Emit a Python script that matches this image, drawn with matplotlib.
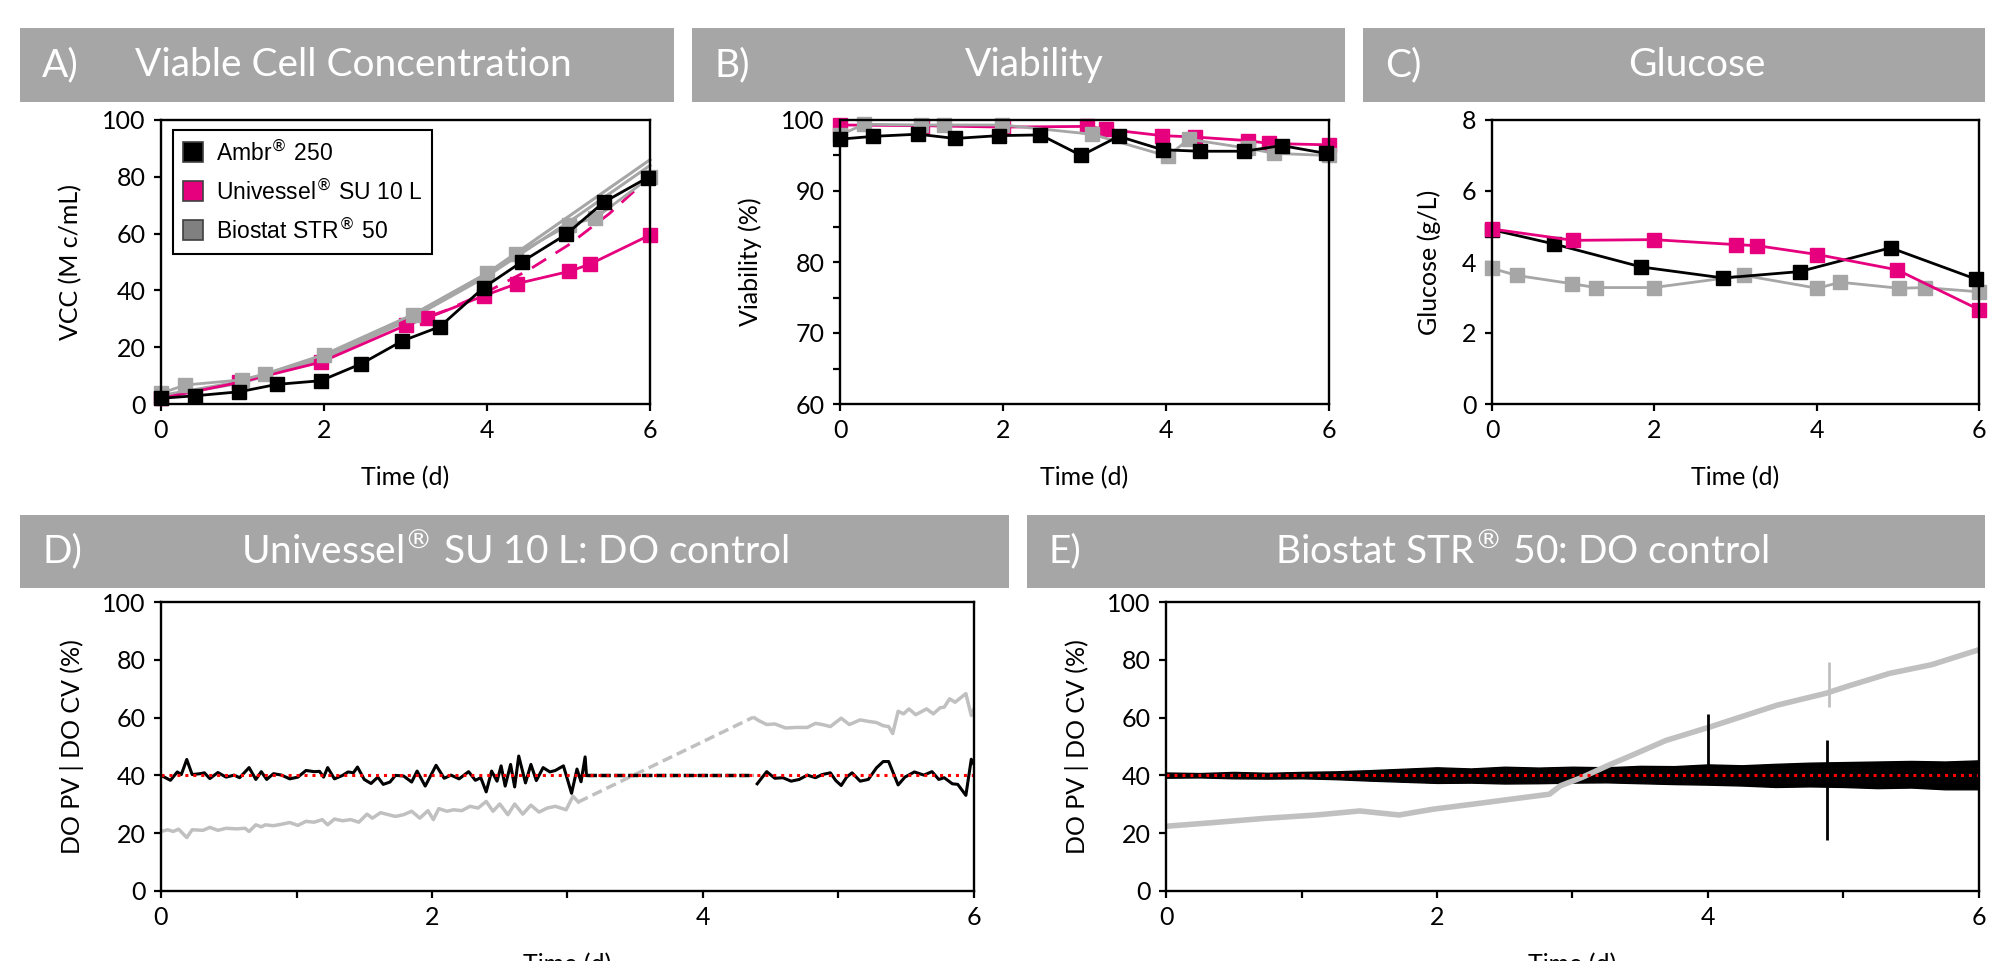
import matplotlib.pyplot as plt
from matplotlib.patches import Rectangle

# ---- values ----
# A) viable cell concentration (M c/mL)
vcc_ambr_t = [0, 0.42, 0.96, 1.42, 1.96, 2.46, 2.96, 3.42, 3.96, 4.43, 4.97, 5.43, 5.97]
vcc_ambr = [2.0, 2.9, 4.3, 6.9, 8.2, 14.2, 22.2, 27.2, 41.0, 50.1, 59.7, 71.0, 79.7]
vcc_uni_t = [0, 0.96, 1.96, 3.01, 3.26, 3.96, 4.37, 5.01, 5.26, 6.0]
vcc_uni = [2.0, 7.6, 14.7, 27.8, 30.2, 38.1, 42.4, 46.7, 49.2, 59.5]
vcc_uni2_t = [3.0, 3.5, 4.0, 4.5, 5.0, 5.5, 6.0]
vcc_uni2 = [28.0, 33.0, 39.5, 47.0, 56.0, 67.0, 80.0]
vcc_bio_t = [0, 0.3, 0.99, 1.28, 2.0, 3.09, 4.0, 4.36, 5.01, 5.33, 6.0]
vcc_bio = [3.8, 6.7, 8.5, 10.6, 17.4, 31.5, 46.0, 52.8, 63.1, 65.5, 79.8]
vcc_bio_run_t = [0, 1, 2, 3, 4, 5, 6]
vcc_bio_run2 = [3.0, 8.0, 17.0, 30.0, 46.0, 66.0, 86.0]
vcc_bio_run3 = [2.5, 7.5, 16.0, 29.0, 45.0, 64.0, 84.0]

# B) viability (%)
via_ambr_t = [0, 0.41, 0.96, 1.41, 1.95, 2.46, 2.96, 3.42, 3.96, 4.42, 4.96, 5.42, 5.96]
via_ambr = [97.3, 97.7, 98.0, 97.4, 97.8, 97.9, 95.0, 97.7, 95.8, 95.6, 95.6, 96.4, 95.3]
via_uni_t = [0, 1.0, 2.0, 3.03, 3.26, 3.95, 4.36, 5.0, 5.26, 6.0]
via_uni = [99.3, 99.2, 99.0, 99.1, 98.7, 97.8, 97.6, 97.1, 96.7, 96.5]
via_bio_t = [0, 0.3, 0.99, 1.27, 1.99, 3.09, 4.02, 4.28, 5.01, 5.33, 6.0]
via_bio = [97.9, 99.4, 99.3, 99.3, 99.3, 98.0, 94.9, 97.3, 96.0, 95.3, 95.0]

# C) glucose (g/L)
glc_ambr_t = [0, 0.76, 1.84, 2.85, 3.79, 4.91, 5.96]
glc_ambr = [4.91, 4.51, 3.86, 3.55, 3.73, 4.40, 3.52]
glc_uni_t = [0, 1.0, 1.99, 3.0, 3.27, 4.01, 4.99, 6.0]
glc_uni = [4.93, 4.61, 4.63, 4.49, 4.46, 4.21, 3.78, 2.66]
glc_bio_t = [0, 0.31, 0.98, 1.28, 1.99, 3.11, 4.01, 4.29, 5.02, 5.33, 6.0]
glc_bio = [3.82, 3.62, 3.39, 3.28, 3.28, 3.62, 3.26, 3.43, 3.26, 3.28, 3.16]

# D) Univessel DO control: PV (black) and CV (grey), with a data gap
d_pv1_t = [0.00, 0.07, 0.12, 0.15, 0.19, 0.23, 0.29, 0.32, 0.36, 0.42, 0.48, 0.54, 0.58,
           0.65, 0.70, 0.74, 0.78, 0.83, 0.89, 0.95, 1.01, 1.07, 1.13, 1.17, 1.20, 1.23,
           1.28, 1.34, 1.38, 1.42, 1.45, 1.50, 1.55, 1.60, 1.64, 1.69, 1.73, 1.79, 1.85,
           1.89, 1.95, 2.03, 2.09, 2.14, 2.20, 2.27, 2.32, 2.36, 2.40, 2.44, 2.48, 2.51,
           2.54, 2.58, 2.61, 2.64, 2.69, 2.73, 2.77, 2.82, 2.87, 2.91, 2.97, 3.03, 3.07,
           3.10, 3.13, 3.14]
d_pv1 = [40.0, 38.3, 41.2, 40.3, 45.5, 40.3, 40.6, 40.9, 38.9, 41.0, 39.4, 40.1, 39.2,
         42.7, 38.6, 41.3, 38.6, 40.6, 40.1, 38.8, 39.4, 41.7, 41.3, 41.4, 39.4, 42.7,
         38.8, 40.0, 41.2, 40.9, 42.9, 38.6, 37.2, 39.4, 36.9, 37.7, 40.0, 39.8, 37.7,
         41.5, 36.3, 43.5, 39.0, 40.1, 38.8, 41.3, 38.3, 39.2, 34.3, 41.5, 38.0, 43.3,
         36.3, 43.8, 36.0, 46.7, 37.4, 43.8, 38.2, 42.7, 41.2, 41.7, 43.3, 33.8, 42.2,
         37.8, 46.4, 40.0]
d_gap_t = [3.14, 4.37]
d_gap_pv = [40.0, 40.0]
d_pv2_t = [4.40, 4.47, 4.53, 4.59, 4.65, 4.71, 4.77, 4.83, 4.88, 4.94, 4.98, 5.02, 5.06,
           5.10, 5.16, 5.22, 5.28, 5.33, 5.37, 5.44, 5.49, 5.56, 5.63, 5.69, 5.74, 5.78,
           5.84, 5.88, 5.94, 5.98, 6.00]
d_pv2 = [37.1, 41.3, 39.0, 39.2, 38.0, 38.6, 40.1, 39.2, 40.3, 40.9, 38.2, 36.5, 39.4,
         40.9, 38.0, 38.6, 42.6, 44.8, 44.8, 36.7, 39.4, 41.2, 40.1, 41.3, 38.6, 39.2,
         37.1, 36.9, 33.1, 45.6, 43.8]
d_cv1_t = [0.00, 0.05, 0.09, 0.13, 0.19, 0.23, 0.31, 0.36, 0.42, 0.48, 0.56, 0.62, 0.65,
           0.70, 0.74, 0.77, 0.83, 0.89, 0.95, 1.01, 1.07, 1.13, 1.19, 1.23, 1.28, 1.34,
           1.40, 1.46, 1.52, 1.56, 1.62, 1.68, 1.73, 1.79, 1.85, 1.91, 1.97, 2.01, 2.05,
           2.11, 2.16, 2.22, 2.28, 2.34, 2.40, 2.45, 2.50, 2.56, 2.61, 2.67, 2.73, 2.79,
           2.85, 2.91, 2.99, 3.04, 3.08]
d_cv1 = [20.6, 21.2, 20.6, 21.4, 18.5, 21.2, 21.0, 22.0, 21.0, 21.7, 21.5, 21.7, 20.6,
         22.9, 22.2, 22.9, 22.6, 23.1, 23.7, 22.7, 24.1, 23.8, 24.7, 22.9, 24.9, 24.3,
         24.7, 23.8, 26.6, 25.2, 27.1, 26.4, 25.8, 26.4, 27.6, 25.2, 27.8, 24.7, 28.5,
         27.6, 28.1, 27.8, 29.3, 28.7, 31.0, 27.6, 30.1, 26.4, 30.1, 26.6, 29.7, 27.3,
         28.7, 29.3, 28.1, 32.8, 30.8]
d_gap_cv_t = [3.08, 4.37]
d_gap_cv = [30.8, 60.1]
d_cv2_t = [4.38, 4.41, 4.47, 4.53, 4.61, 4.69, 4.77, 4.83, 4.88, 4.94, 5.02, 5.08, 5.16,
           5.22, 5.28, 5.33, 5.37, 5.40, 5.44, 5.48, 5.52, 5.57, 5.65, 5.70, 5.75, 5.78,
           5.82, 5.86, 5.94, 5.98, 6.00]
d_cv2 = [59.9, 59.0, 57.6, 57.8, 56.4, 56.6, 56.6, 58.0, 57.6, 56.9, 59.8, 57.6, 59.2,
         58.7, 58.3, 57.2, 56.9, 54.5, 62.2, 61.3, 63.0, 61.0, 63.0, 61.3, 63.4, 63.6,
         66.5, 65.3, 68.3, 60.7, 63.0]

# E) Biostat DO control: PV noise band (black) and CV (grey)
e_t = [0, 0.25, 0.5, 0.75, 1.0, 1.25, 1.5, 1.75, 2.0, 2.25, 2.5, 2.75, 3.0, 3.25, 3.5,
       3.75, 4.0, 4.25, 4.5, 4.75, 5.0, 5.25, 5.5, 5.75, 6.0]
e_pv_hi = [41.0, 40.8, 41.2, 40.9, 41.2, 41.4, 41.8, 42.3, 42.8, 42.4, 43.0, 42.7, 43.0,
           42.8, 43.3, 43.2, 43.8, 43.5, 44.0, 44.4, 44.6, 44.8, 45.0, 44.8, 45.2]
e_pv_lo = [39.2, 39.3, 39.0, 38.9, 39.0, 38.7, 38.2, 37.8, 37.4, 37.5, 37.2, 37.3, 37.5,
           37.6, 37.3, 37.0, 36.8, 36.5, 36.0, 36.2, 36.0, 35.6, 35.8, 35.2, 35.2]
e_cv_t = [0, 0.33, 0.72, 1.11, 1.43, 1.72, 1.97, 2.29, 2.60, 2.83, 2.91, 3.07, 3.26, 3.46,
          3.69, 4.01, 4.24, 4.51, 4.87, 5.02, 5.34, 5.65, 6.0]
e_cv = [22.4, 23.6, 25.1, 26.3, 27.7, 26.3, 28.3, 30.2, 32.1, 33.5, 36.4, 39.3, 43.4, 47.4,
        52.1, 56.7, 60.2, 64.3, 68.4, 70.7, 75.3, 78.3, 83.5]
e_pv_spike_t = [4.0, 4.88]
e_pv_spike_lo = [40.0, 17.5]
e_pv_spike_hi = [61.4, 52.1]
e_cv_spike_t = [4.89]
e_cv_spike_lo = [63.7]
e_cv_spike_hi = [79.4]
do_setpoint = 40

PINK = '#e6007e'
GREY = '#a6a6a6'
LGREY = '#c0c0c0'
plt.rcParams['font.family'] = ['Lato', 'DejaVu Sans']

W, H = 2005, 961
fig = plt.figure(figsize=(W / 100, H / 100), dpi=100)


def px_axes(x0, x1, y0, y1):
    return fig.add_axes([x0 / W, 1 - y1 / H, (x1 - x0) / W, (y1 - y0) / H])


def header(x0, x1, y0, y1, letter, title, tx):
    fig.add_artist(Rectangle((x0 / W, 1 - y1 / H), (x1 - x0) / W, (y1 - y0) / H,
                             transform=fig.transFigure, color=GREY, lw=0))
    yc = 1 - (y0 + y1) / 2 / H
    fig.text((x0 + 22) / W, yc, letter, color='white', fontsize=28,
             va='center', ha='left')
    fig.text(tx / W, yc, title, color='white', fontsize=28,
             va='center', ha='center')


def style(ax, ylabel, ylab_x, xlab_y):
    for s in ax.spines.values():
        s.set_linewidth(1.7)
    ax.tick_params(direction='out', length=5, width=1.6, labelsize=18, pad=6)
    ax.set_xlim(0, 6)
    ax.set_xlabel('Time (d)', fontsize=18)
    ax.set_ylabel(ylabel, fontsize=18)
    ax.yaxis.set_label_coords(ylab_x, 0.5)
    ax.xaxis.set_label_coords(0.5, xlab_y)


mk = dict(marker='s', markersize=10, lw=2, clip_on=False)

# headers
header(20, 674, 28, 102, 'A)', 'Viable Cell Concentration', 353)
header(692, 1345, 28, 102, 'B)', 'Viability', 1034)
header(1363, 1985, 28, 102, 'C)', 'Glucose', 1697)
header(20, 1009, 515, 588, 'D)', 'Univessel$^{\u00ae}$ SU 10 L: DO control', 515)
header(1027, 1985, 515, 588, 'E)', 'Biostat STR$^{\u00ae}$ 50: DO control', 1522)

# A) VCC
ax = px_axes(161, 650, 120, 404)
ax.plot(vcc_bio_run_t, vcc_bio_run2, color=GREY, lw=2.2, clip_on=False)
ax.plot(vcc_bio_run_t, vcc_bio_run3, color=GREY, lw=2.2, clip_on=False)
ax.plot(vcc_uni2_t, vcc_uni2, color=PINK, lw=2, ls=(0, (6, 4)))
ax.plot(vcc_uni_t, vcc_uni, color=PINK, **mk)
ax.plot(vcc_bio_t, vcc_bio, color=GREY, **mk)
ax.plot(vcc_ambr_t, vcc_ambr, color='black', **mk)
ax.set_ylim(0, 100)
ax.set_yticks(range(0, 101, 20))
ax.set_xticks([0, 2, 4, 6])
style(ax, 'VCC (M c/mL)', -0.16, -0.22)
# legend only shows square markers
hs = [ax.plot([], [], ls='none', marker='s', markersize=14, mfc=c, mec='#404040', mew=1.2)[0]
      for c in ['black', PINK, '#808080']]
leg = ax.legend(hs, ['Ambr$^{\u00ae}$ 250', 'Univessel$^{\u00ae}$ SU 10 L',
                     'Biostat STR$^{\u00ae}$ 50'],
                loc='upper left', bbox_to_anchor=(0.025, 0.965), borderaxespad=0,
                fancybox=False, edgecolor='black', framealpha=1,
                prop={'family': 'Liberation Sans', 'size': 16.5},
                handlelength=0.8, handletextpad=0.6, labelspacing=0.6,
                borderpad=0.45)
leg.get_frame().set_linewidth(1.5)

# B) viability
ax = px_axes(840, 1329, 120, 404)
ax.plot(via_uni_t, via_uni, color=PINK, **mk)
ax.plot(via_bio_t, via_bio, color=GREY, **mk)
ax.plot(via_ambr_t, via_ambr, color='black', **mk)
ax.set_ylim(60, 100)
ax.set_yticks(range(60, 101, 5))
ax.set_yticklabels([str(v) if v % 10 == 0 else '' for v in range(60, 101, 5)])
ax.set_xticks([0, 2, 4, 6])
style(ax, 'Viability (%)', -0.16, -0.22)

# C) glucose
ax = px_axes(1492, 1979, 120, 404)
ax.plot(glc_bio_t, glc_bio, color=GREY, **mk)
ax.plot(glc_ambr_t, glc_ambr, color='black', **mk)
ax.plot(glc_uni_t, glc_uni, color=PINK, **mk)
ax.set_ylim(0, 8)
ax.set_yticks(range(0, 9, 2))
ax.set_xticks([0, 2, 4, 6])
style(ax, 'Glucose (g/L)', -0.105, -0.22)

# D) Univessel DO
ax = px_axes(161, 974, 602, 891)
ax.plot(d_cv1_t, d_cv1, color=LGREY, lw=2.5)
ax.plot(d_gap_cv_t, d_gap_cv, color=LGREY, lw=2.5, ls=(0, (3, 1.5)))
ax.plot(d_cv2_t, d_cv2, color=LGREY, lw=2.5)
ax.plot(d_pv1_t, d_pv1, color='black', lw=2.2)
ax.plot(d_gap_t, d_gap_pv, color='black', lw=2.5, ls=(0, (3, 1)))
ax.plot(d_pv2_t, d_pv2, color='black', lw=2.2)
ax.axhline(do_setpoint, color='red', lw=2.2, ls=(0, (1, 1.6)))
ax.set_ylim(0, 100)
ax.set_yticks(range(0, 101, 20))
ax.set_xticks(range(0, 7))
ax.set_xticklabels(['0', '', '2', '', '4', '', '6'])
style(ax, 'DO PV | DO CV (%)', -0.095, -0.215)

# E) Biostat DO
ax = px_axes(1166, 1979, 602, 891)
ax.plot(e_cv_t, e_cv, color=LGREY, lw=4)
ax.vlines(e_cv_spike_t, e_cv_spike_lo, e_cv_spike_hi, color=LGREY, lw=2)
ax.fill_between(e_t, e_pv_lo, e_pv_hi, color='black', lw=1)
ax.vlines(e_pv_spike_t, e_pv_spike_lo, e_pv_spike_hi, color='black', lw=2)
ax.axhline(do_setpoint, color='red', lw=2.2, ls=(0, (1, 1.6)))
ax.set_ylim(0, 100)
ax.set_yticks(range(0, 101, 20))
ax.set_xticks(range(0, 7))
ax.set_xticklabels(['0', '', '2', '', '4', '', '6'])
style(ax, 'DO PV | DO CV (%)', -0.095, -0.215)

fig.savefig('out.png', dpi=100)
